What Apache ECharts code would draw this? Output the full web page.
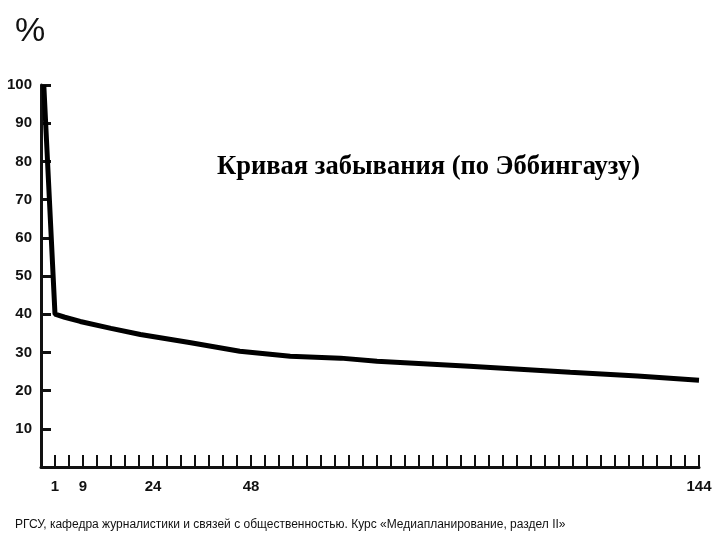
<!DOCTYPE html>
<html>
<head>
<meta charset="utf-8">
<script src="https://cdn.jsdelivr.net/npm/echarts@6/dist/echarts.min.js"></script>
<style>
html,body{margin:0;padding:0;background:#fff;}
#chart{width:720px;height:540px;}
</style>
</head>
<body>
<div id="chart"></div>
<script>
// Retention curve (x in tick units along the time axis, y in %)
const timePos = [0.2, 1, 1.7, 2.8, 5, 7.1, 10.6, 14.2, 17.8, 21.4, 24, 30.6, 37.8, 42.6, 47];
const retention = [100, 40, 39.2, 38.1, 36.3, 34.7, 32.6, 30.3, 29, 28.5, 27.7, 26.4, 24.8, 23.8, 22.7];
// Labelled ticks on the time axis (hours)
const tickPositions = [1, 3, 8, 15, 47];
const tickLabels = ['1', '9', '24', '48', '144'];
const yTicks = [10, 20, 30, 40, 50, 60, 70, 80, 90, 100];

const chart = echarts.init(document.getElementById('chart'));
const labelFont = '"Liberation Sans Narrow", "Liberation Sans", Arial, sans-serif';

chart.setOption({
  backgroundColor: '#ffffff',
  animation: false,
  title: [
    {
      text: 'Кривая забывания (по Эббингаузу)',
      left: 212, top: 149,
      textStyle: { fontFamily: '"Liberation Serif", "DejaVu Serif", serif', fontWeight: 'bold', fontSize: 26.5, color: '#000' }
    },
    {
      text: '%',
      left: 10, top: 10,
      textStyle: { fontFamily: '"Liberation Sans Narrow", "Liberation Sans", Arial, sans-serif', fontWeight: 'normal', fontSize: 34, color: '#111' }
    },
    {
      text: 'РГСУ, кафедра журналистики и связей с общественностью. Курс «Медиапланирование, раздел II»',
      left: 10, top: 514,
      textStyle: { fontFamily: '"Liberation Sans", Arial, sans-serif', fontWeight: 'normal', fontSize: 12, color: '#111' }
    }
  ],
  grid: { left: 41, right: 21, top: 85, bottom: 73, containLabel: false },
  xAxis: {
    type: 'value',
    min: 0, max: 47, interval: 1,
    axisLine: { show: true, lineStyle: { color: '#111', width: 3 } },
    axisTick: { show: true, inside: true, length: 12, lineStyle: { color: '#111', width: 2 } },
    splitLine: { show: false },
    axisLabel: {
      show: true, margin: 12, showMaxLabel: true, showMinLabel: true,
      fontFamily: labelFont, fontWeight: 'bold', fontSize: 15, color: '#111',
      formatter: function (v) {
        const i = tickPositions.indexOf(Math.round(v));
        return i >= 0 ? tickLabels[i] : '';
      }
    }
  },
  yAxis: {
    type: 'value',
    min: 0, max: 100, interval: 10,
    axisLine: { show: true, lineStyle: { color: '#111', width: 3 } },
    axisTick: { show: true, inside: true, length: 10, lineStyle: { color: '#111', width: 3 } },
    splitLine: { show: false },
    axisLabel: {
      margin: 9,
      fontFamily: labelFont, fontWeight: 'bold', fontSize: 15, color: '#111',
      formatter: function (v) { return yTicks.indexOf(v) >= 0 ? String(v) : ''; }
    }
  },
  series: [{
    type: 'line',
    data: timePos.map((x, i) => [x, retention[i]]),
    showSymbol: false,
    smooth: false,
    lineStyle: { color: '#000', width: 5 }
  }]
});
</script>
</body>
</html>
